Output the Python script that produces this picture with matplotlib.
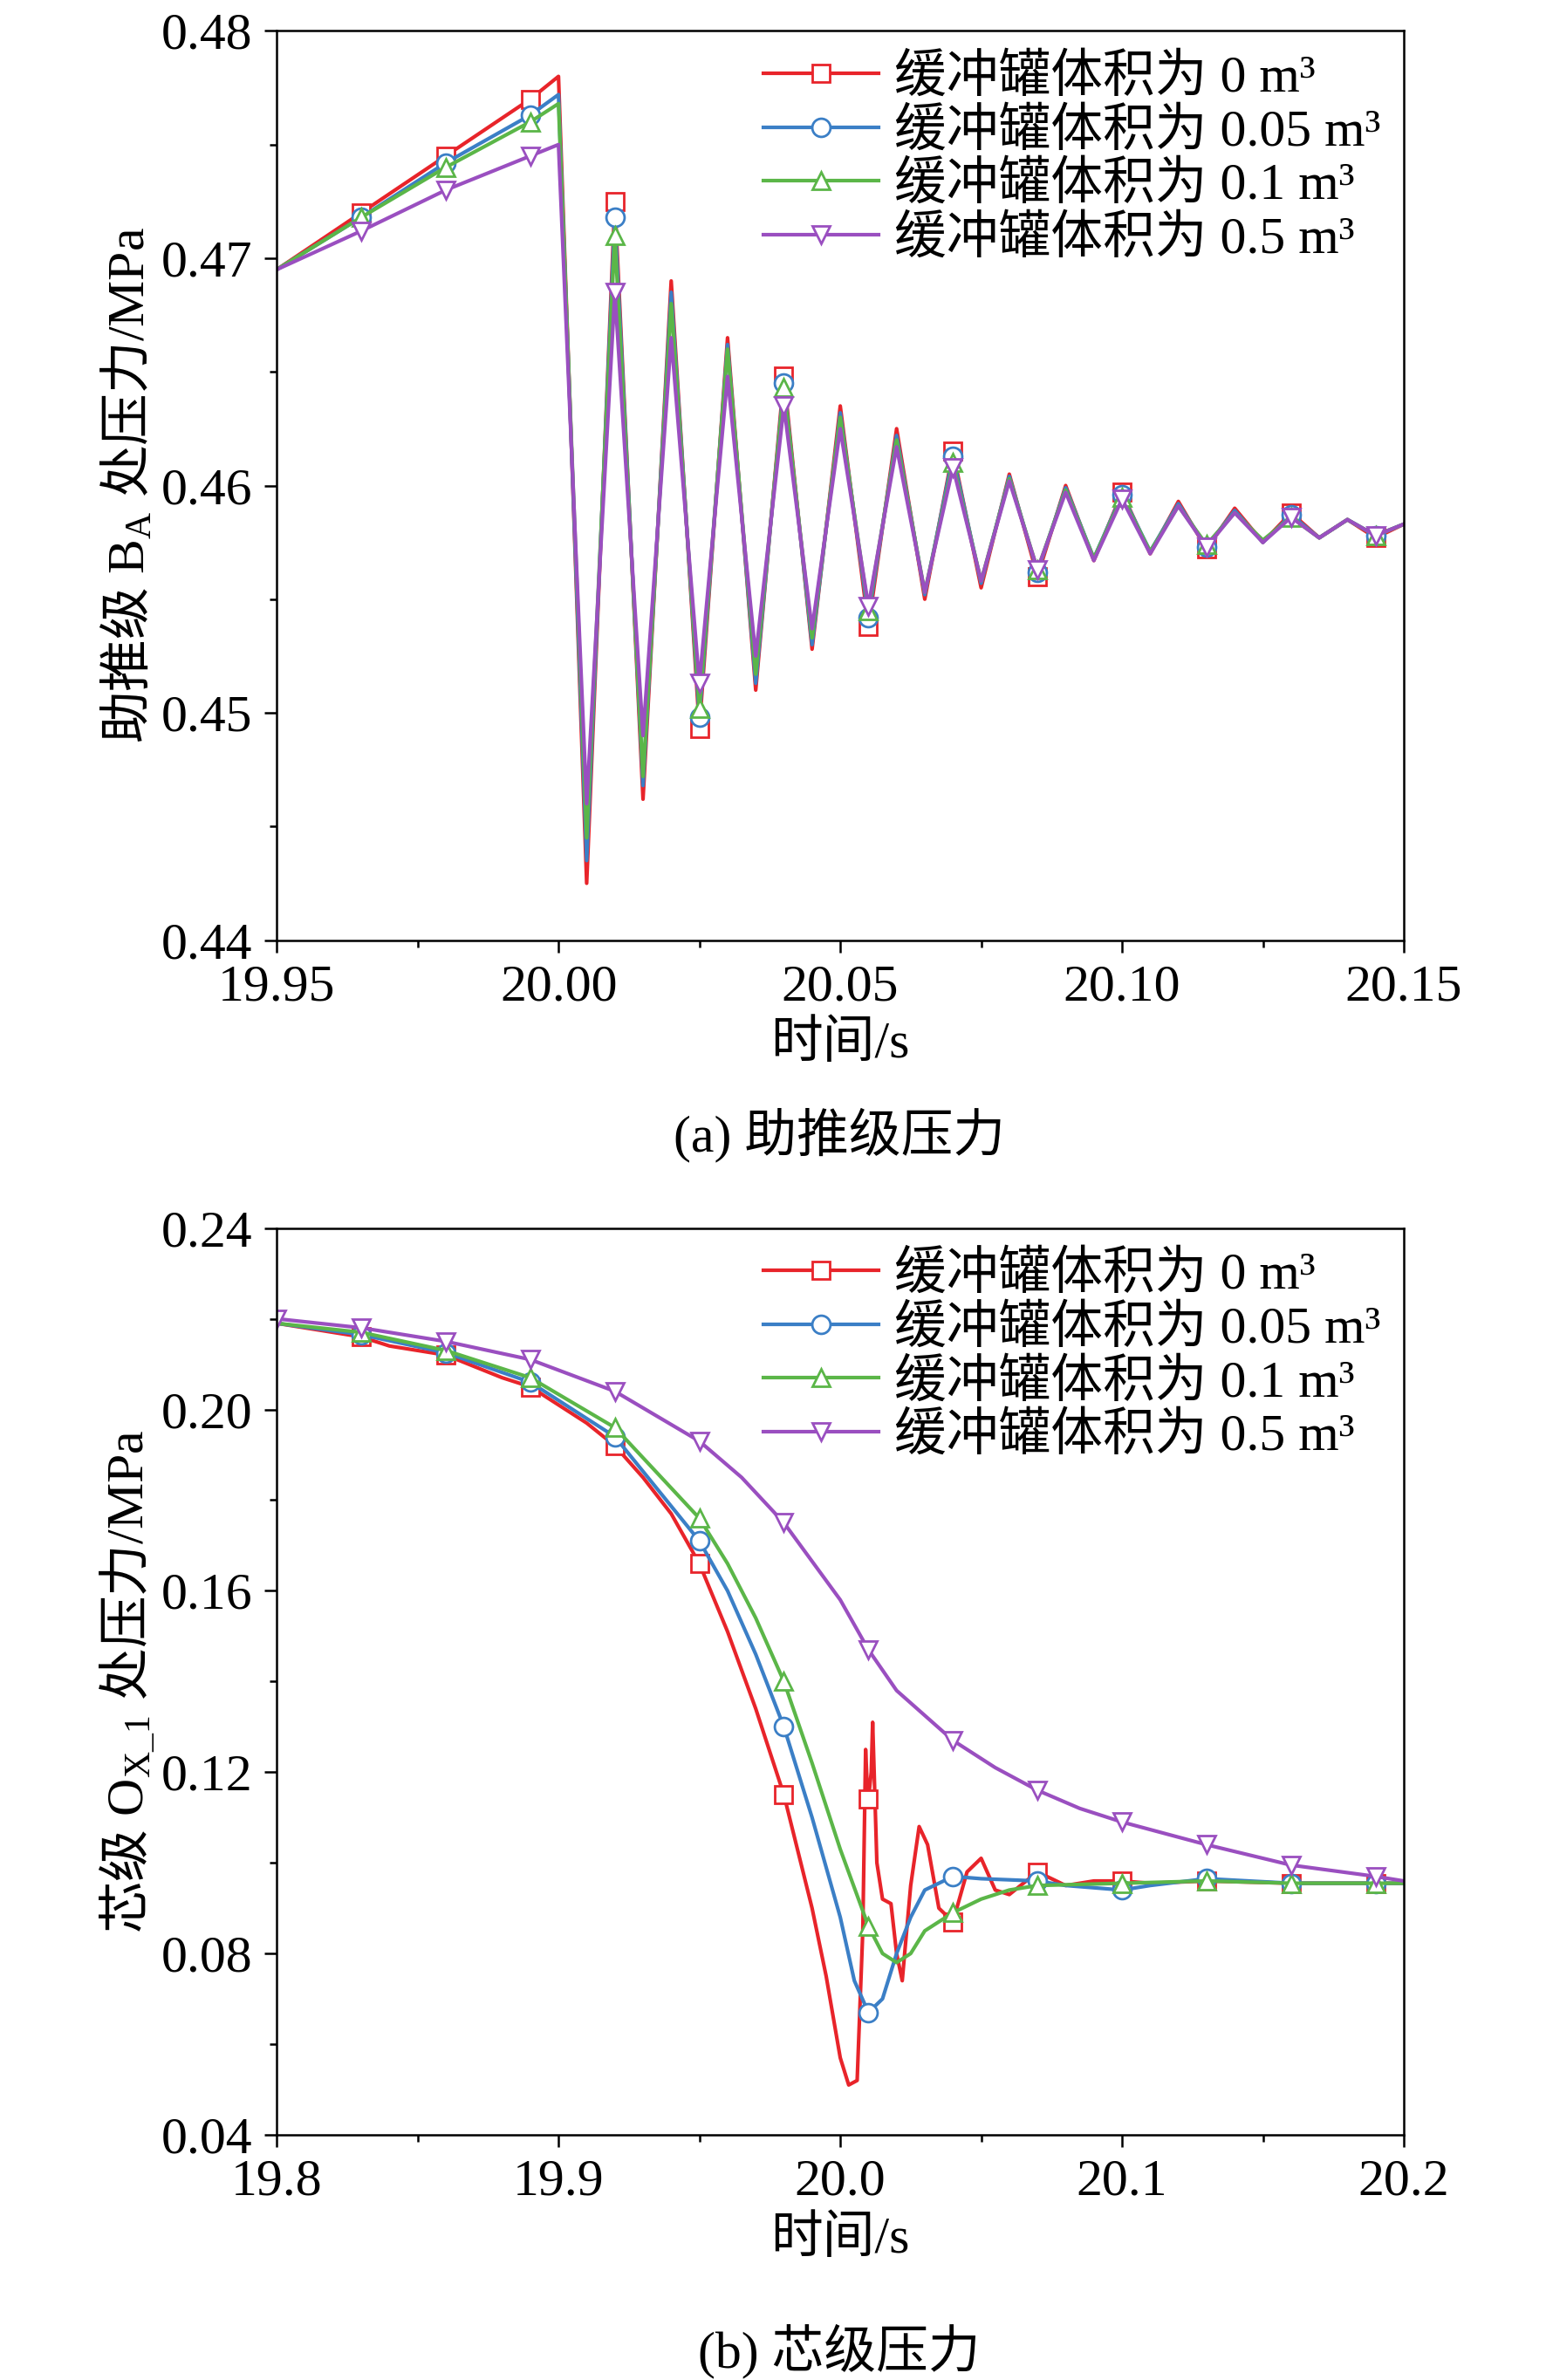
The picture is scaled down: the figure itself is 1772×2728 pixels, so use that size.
import numpy as np
import matplotlib.pyplot as plt
from matplotlib.ticker import MultipleLocator, FormatStrFormatter

plt.rcParams['font.family'] = ['Liberation Serif', 'Noto Sans CJK SC']
plt.rcParams['mathtext.fontset'] = 'custom'
plt.rcParams['mathtext.rm'] = 'Liberation Serif'
plt.rcParams['mathtext.it'] = 'Liberation Serif'
plt.rcParams['mathtext.sf'] = 'Noto Sans CJK SC'

labels = ['缓冲罐体积为 0 m³', '缓冲罐体积为 0.05 m³', '缓冲罐体积为 0.1 m³', '缓冲罐体积为 0.5 m³']
colors = ['#e8242a', '#3b7fc6', '#5bb648', '#9a4fc0']
markers = ['s', 'o', '^', 'v']

# (a) booster stage
t_a = [19.95, 19.965, 19.98, 19.995, 20.0,
       20.005, 20.01, 20.015, 20.02, 20.025, 20.03, 20.035, 20.04, 20.045, 20.05,
       20.055, 20.06, 20.065, 20.07, 20.075, 20.08, 20.085, 20.09, 20.095, 20.10,
       20.105, 20.11, 20.115, 20.12, 20.125, 20.13, 20.135, 20.14, 20.145, 20.15]
p_a_red = [0.4695, 0.4720, 0.4745, 0.4770, 0.4780,
           0.4425, 0.4725, 0.4462, 0.4690, 0.4493, 0.4665, 0.4510, 0.4648, 0.4528, 0.4635,
           0.4538, 0.4625, 0.4550, 0.4615, 0.4555, 0.4605, 0.4560, 0.4600, 0.4567, 0.4597,
           0.4570, 0.4593, 0.4572, 0.4590, 0.4575, 0.4588, 0.4577, 0.4585, 0.4577, 0.4583]
p_a_blue = [0.4695, 0.4718, 0.4742, 0.4763, 0.4772,
            0.4435, 0.4718, 0.4468, 0.4685, 0.4498, 0.4662, 0.4513, 0.4645, 0.4530, 0.4632,
            0.4542, 0.4622, 0.4552, 0.4613, 0.4557, 0.4604, 0.4562, 0.4599, 0.4568, 0.4596,
            0.4571, 0.4592, 0.4573, 0.4589, 0.4575, 0.4587, 0.4577, 0.4585, 0.4578, 0.4583]
p_a_green = [0.4695, 0.4718, 0.4740, 0.4760, 0.4768,
             0.4445, 0.4710, 0.4472, 0.4680, 0.4502, 0.4660, 0.4517, 0.4643, 0.4533, 0.4630,
             0.4545, 0.4620, 0.4553, 0.4610, 0.4558, 0.4603, 0.4563, 0.4598, 0.4568, 0.4595,
             0.4571, 0.4591, 0.4574, 0.4588, 0.4576, 0.4586, 0.4577, 0.4585, 0.4578, 0.4583]
p_a_purple = [0.4695, 0.4712, 0.4730, 0.4745, 0.4750,
              0.4460, 0.4685, 0.4490, 0.4665, 0.4513, 0.4648, 0.4525, 0.4635, 0.4537, 0.4625,
              0.4547, 0.4617, 0.4553, 0.4608, 0.4558, 0.4602, 0.4563, 0.4597, 0.4567, 0.4594,
              0.4570, 0.4591, 0.4573, 0.4588, 0.4575, 0.4586, 0.4577, 0.4585, 0.4578, 0.4583]
mark_a = [19.965, 19.98, 19.995, 20.01, 20.025, 20.04, 20.055, 20.07, 20.085,
          20.10, 20.115, 20.13, 20.145]

# (b) core stage
t_b_red = [19.80, 19.81, 19.82, 19.83, 19.84, 19.85, 19.86, 19.87, 19.88, 19.89, 19.90,
           19.91, 19.92, 19.93, 19.94, 19.95, 19.96, 19.97, 19.98, 19.99, 19.995, 20.0,
           20.003, 20.006, 20.008, 20.009, 20.0095, 20.01, 20.011, 20.0115, 20.013, 20.015,
           20.018, 20.02, 20.022, 20.025, 20.028, 20.031, 20.035, 20.04, 20.045, 20.05,
           20.055, 20.06, 20.07, 20.08, 20.09, 20.10, 20.11, 20.13, 20.16, 20.19, 20.20]
p_b_red = [0.219, 0.218, 0.217, 0.216, 0.214, 0.213, 0.212, 0.2095, 0.207, 0.205, 0.201,
           0.197, 0.192, 0.185, 0.177, 0.166, 0.151, 0.134, 0.115, 0.090, 0.075, 0.057,
           0.051, 0.052, 0.085, 0.125, 0.118, 0.114, 0.120, 0.131, 0.100, 0.092,
           0.091, 0.080, 0.074, 0.095, 0.108, 0.104, 0.090, 0.087, 0.098, 0.101,
           0.094, 0.093, 0.098, 0.095, 0.096, 0.096, 0.0955, 0.096, 0.0955, 0.0955, 0.0955]
t_b_blue = [19.80, 19.83, 19.86, 19.89, 19.92, 19.95, 19.96, 19.97, 19.98, 19.99, 20.0,
            20.005, 20.01, 20.015, 20.02, 20.025, 20.03, 20.04, 20.05, 20.07, 20.08, 20.10,
            20.11, 20.13, 20.16, 20.19, 20.20]
p_b_blue = [0.219, 0.2165, 0.2125, 0.206, 0.194, 0.171, 0.160, 0.146, 0.130, 0.110, 0.088,
            0.074, 0.067, 0.070, 0.080, 0.088, 0.094, 0.097, 0.0965, 0.096, 0.095, 0.094,
            0.095, 0.0965, 0.0955, 0.0955, 0.0955]
t_b_green = [19.80, 19.83, 19.86, 19.89, 19.92, 19.95, 19.96, 19.97, 19.98, 19.99, 20.0,
             20.01, 20.015, 20.02, 20.025, 20.03, 20.04, 20.05, 20.06, 20.07, 20.10, 20.13,
             20.16, 20.19, 20.20]
p_b_green = [0.219, 0.217, 0.213, 0.207, 0.196, 0.176, 0.166, 0.154, 0.140, 0.122, 0.103,
             0.086, 0.080, 0.078, 0.080, 0.085, 0.089, 0.092, 0.094, 0.095, 0.0955, 0.096,
             0.0955, 0.0955, 0.0955]
t_b_purple = [19.80, 19.83, 19.86, 19.89, 19.92, 19.95, 19.965, 19.98, 20.0, 20.01, 20.02,
              20.04, 20.055, 20.07, 20.085, 20.10, 20.13, 20.16, 20.19, 20.20]
p_b_purple = [0.220, 0.218, 0.215, 0.211, 0.204, 0.193, 0.185, 0.175, 0.158, 0.147, 0.138,
              0.127, 0.121, 0.116, 0.112, 0.109, 0.104, 0.0995, 0.097, 0.096]
mark_b = [19.80, 19.83, 19.86, 19.89, 19.92, 19.95, 19.98, 20.01, 20.04, 20.07, 20.10,
          20.13, 20.16, 20.19]

FS = 43

fig = plt.figure(figsize=(17.72, 27.28), dpi=100)
ax1 = fig.add_axes([0.179, 0.605, 0.729, 0.382])
ax2 = fig.add_axes([0.179, 0.103, 0.729, 0.381])


def draw(ax, t, p, c, m, lab, marks, first_at_start=False):
    t = np.array(t)
    idx = [int(np.argmin(np.abs(t - mt))) for mt in marks if mt <= t[-1]]
    if not first_at_start:
        idx = [i for i in idx if t[i] > t[0] + 1e-9]
    ax.plot(t, p, color=c, lw=3, marker=m, markevery=idx, ms=15,
            mfc='white', mec=c, mew=2, label=lab)


series_a = [p_a_red, p_a_blue, p_a_green, p_a_purple]
for p, c, m, lab in zip(series_a, colors, markers, labels):
    draw(ax1, t_a, p, c, m, lab, mark_a)

series_b = [(t_b_red, p_b_red), (t_b_blue, p_b_blue), (t_b_green, p_b_green),
            (t_b_purple, p_b_purple)]
for k, ((t, p), c, m, lab) in enumerate(zip(series_b, colors, markers, labels)):
    draw(ax2, t, p, c, m, lab, mark_b, first_at_start=(k == 3))

ax1.set_xlim(19.95, 20.15)
ax1.set_ylim(0.44, 0.48)
ax1.xaxis.set_major_locator(MultipleLocator(0.05))
ax1.xaxis.set_minor_locator(MultipleLocator(0.025))
ax1.yaxis.set_major_locator(MultipleLocator(0.01))
ax1.yaxis.set_minor_locator(MultipleLocator(0.005))
ax1.xaxis.set_major_formatter(FormatStrFormatter('%.2f'))
ax1.yaxis.set_major_formatter(FormatStrFormatter('%.2f'))
ax1.set_ylabel(r'$\mathsf{助推级}\ \mathrm{B_A}\ \mathsf{处压力}\mathrm{/MPa}$', fontsize=FS)

ax2.set_xlim(19.8, 20.2)
ax2.set_ylim(0.04, 0.24)
ax2.xaxis.set_major_locator(MultipleLocator(0.1))
ax2.xaxis.set_minor_locator(MultipleLocator(0.05))
ax2.yaxis.set_major_locator(MultipleLocator(0.04))
ax2.yaxis.set_minor_locator(MultipleLocator(0.02))
ax2.xaxis.set_major_formatter(FormatStrFormatter('%.1f'))
ax2.yaxis.set_major_formatter(FormatStrFormatter('%.2f'))
ax2.set_ylabel(r'$\mathsf{芯级}\ \mathrm{O_{X\_1}}\ \mathsf{处压力}\mathrm{/MPa}$', fontsize=FS)

for ax in (ax1, ax2):
    ax.set_xlabel('时间/s', fontsize=FS, labelpad=8)
    ax.tick_params(which='major', direction='out', length=10, width=1.8,
                   labelsize=FS, pad=10)
    ax.tick_params(which='minor', direction='out', length=6, width=1.8)
    for s in ax.spines.values():
        s.set_linewidth(1.8)
    ax.legend(loc='upper right', fontsize=FS, frameon=False, handlelength=2.2,
              borderaxespad=0.05, labelspacing=0.1, handletextpad=0.3)

fig.text(0.543, 0.523, '(a) 助推级压力', fontsize=FS, ha='center', va='center')
fig.text(0.543, 0.012, '(b) 芯级压力', fontsize=FS, ha='center', va='center')

fig.savefig('out.png', dpi=100)
